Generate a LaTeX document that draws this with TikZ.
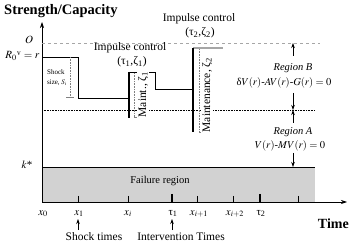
\documentclass[tikz,border=0pt]{standalone}
\usepackage{mathptmx}
\usepackage{fontspec}
\setmainfont{Liberation Serif}
\usetikzlibrary{arrows.meta}
\begin{document}
\begin{tikzpicture}[x=1pt,y=-1pt,
  lbl/.style={inner sep=0.5pt,font=\fontsize{10}{11}\selectfont},
  axl/.style={inner sep=0.5pt,font=\fontsize{11}{12}\selectfont,text height=6pt,text depth=2pt},
  big/.style={inner sep=0pt,font=\fontsize{14.5}{15}\selectfont\bfseries},
  ctrl/.style={inner sep=0pt,font=\fontsize{11.5}{13}\selectfont},
  thickbar/.style={line width=2.4pt},
  thin/.style={line width=0.7pt},
  vdot/.style={gray,densely dotted,line width=0.6pt},
  arr/.style={-{Stealth[length=5pt,width=3.5pt]},line width=0.6pt}]
\useasboundingbox (0,0) rectangle (351,243);
% failure region
\fill[gray!35] (42,167) rectangle (315,202);
\draw[thin] (42,167) coordinate (fl) -- (315,167) coordinate (fr);
\node[lbl,font=\fontsize{10.5}{11}\selectfont] (fail) at (160,181) {Failure region};
% axes
\coordinate (orig) at (42,202);
\coordinate (ytop) at (42,22);
\coordinate (xend) at (347,202);
\draw[thin,-{Stealth[length=6pt,width=4pt]}] (orig) -- (ytop);
\draw[thin,-{Stealth[length=6pt,width=4pt]}] (orig) -- (xend);
\node[big,anchor=west] (ylab) at (4,11) {Strength/Capacity};
\node[big,anchor=east,font=\fontsize{14}{15}\selectfont\bfseries] (xlab) at (349,224) {Time};
% reference lines
\draw[gray!70,dashed,line width=0.6pt] (42,43) -- (320,43);
\draw[densely dotted,line width=0.6pt] (42,110) -- (315,110);
% y labels
\node[axl] (O) at (29,42) {$O$};
\node[axl,anchor=east] (R0) at (40,57) {$R_0{}^{\mathrm{v}} = r$};
\node[axl] (k) at (27,166) {$k$*};
% strength path
\draw[thin] (42,57) -- (78,57) -- (78,98) -- (129,98);
\draw[thin] (129,72) -- (155,72) -- (155,89) -- (193,89);
\draw[gray!70,line width=1.2pt] (193,48) -- (223,48);
\draw[thickbar] (129,72) -- (129,118);
\draw[thickbar] (193,48) -- (193,132);
% shock size
\draw[vdot] (70,57) -- (70,97);
\draw[gray,line width=0.6pt] (66,97) -- (74,97);
\node[inner sep=0pt,align=left,font=\fontsize{7}{10}\selectfont] (ss) at (57,78) {Shock\\size, $S_i$};
% maintenance 1
\draw[vdot] (134,73) -- (134,117);
\draw[gray,line width=0.6pt] (134,117) -- (137,117);
\node[ctrl,rotate=90,anchor=west,fill=white,inner sep=0.5pt] (m1) at (143,118) {Maint., ζ\textsubscript{1}};
% maintenance 2
\draw[vdot] (199,49) -- (199,132);
\draw[gray,line width=0.6pt] (199,132) -- (202,132);
\node[ctrl,rotate=90,anchor=west,fill=white,inner sep=0.5pt] (m2) at (207,133) {Maintenance, ζ\textsubscript{2}};
% impulse control labels
\node[ctrl] (ic1) at (130,48) {Impulse control};
\node[ctrl] (ic1b) at (132,62) {(τ\textsubscript{1},ζ\textsubscript{1})};
\node[ctrl] (ic2) at (199,19) {Impulse control};
\node[ctrl] (ic2b) at (200,33) {(τ\textsubscript{2},ζ\textsubscript{2})};
% regions
\coordinate (aO) at (293,43);
\coordinate (aM) at (293,110);
\coordinate (aK) at (293,167);
\node[lbl,font=\fontsize{10.5}{11}\selectfont\itshape] (rb) at (293,68) {Region B};
\node[lbl,font=\fontsize{10.5}{11}\selectfont] (rbe) at (284,83) {δ$V(r)$-$AV(r)$-$G(r) = 0$};
\node[lbl,font=\fontsize{10.5}{11}\selectfont\itshape] (ra) at (293,132) {Region A};
\node[lbl,font=\fontsize{10.5}{11}\selectfont] (rae) at (290,146) {$V(r)$-$MV(r) = 0$};
\draw[arr] (293,56) -- (aO);
\draw[arr] (293,93) -- (aM);
\draw[arr] (293,123) -- (aM);
\draw[arr] (293,153) -- (aK);
% ticks
\foreach \xx in {78,128,197,233,298} \draw[thin] (\xx,196) -- (\xx,202);
\foreach \xx in {172,260} \draw[line width=1.6pt] (\xx,194) -- (\xx,202);
\node[axl] (x0) at (43,213) {$x_0$};
\node[axl] (x1) at (79,213) {$x_1$};
\node[axl] (xi) at (128,213) {$x_i$};
\node[axl] (t1) at (173,213) {τ\textsubscript{1}};
\node[axl] (xi1) at (199,213) {$x_{i+1}$};
\node[axl] (xi2) at (235,213) {$x_{i+2}$};
\node[axl] (t2) at (261,213) {τ\textsubscript{2}};
% bottom labels
\node[ctrl] (st) at (94,237) {Shock times};
\node[ctrl] (it) at (181,237) {Intervention Times};
\draw[arr] (78,230) -- (78,219);
\draw[arr] (172,230) -- (172,219);
\end{tikzpicture}
\end{document}
